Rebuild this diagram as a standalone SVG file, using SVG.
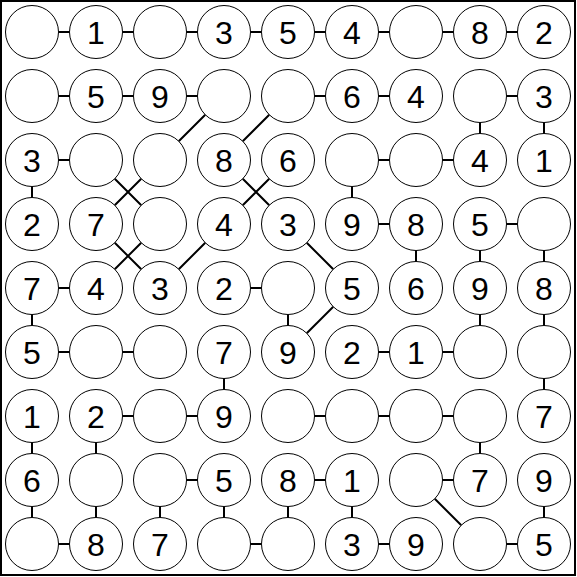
<svg xmlns="http://www.w3.org/2000/svg" width="577" height="577" viewBox="0 0 577 577">
<style>
.n circle{fill:#fff;stroke:#000;stroke-width:1}
.n text{font-family:"Liberation Sans",Arial,sans-serif;font-size:32px;fill:#000;text-anchor:middle}
#connectors path{stroke:#000;stroke-width:2;fill:none}
</style>
<rect x="1" y="1" width="574" height="574" fill="#fff" stroke="#000" stroke-width="2"/>
<g id="connectors">
<path d="M58.5 32h11M122.5 32h11M186.5 32h11M250.5 32h11M314.5 32h11M378.5 32h11M442.5 32h11M506.5 32h11"/>
<path d="M58.5 96h11M122.5 96h11M186.5 96h11M314.5 96h11M378.5 96h11M506.5 96h11"/>
<path d="M58.5 160h11M378.5 160h11M442.5 160h11"/>
<path d="M378.5 224h11M506.5 224h11"/>
<path d="M58.5 288h11M250.5 288h11"/>
<path d="M58.5 352h11M122.5 352h11M378.5 352h11M442.5 352h11"/>
<path d="M122.5 416h11M186.5 416h11M314.5 416h11M378.5 416h11M442.5 416h11"/>
<path d="M186.5 480h11M314.5 480h11M442.5 480h11"/>
<path d="M58.5 544h11M250.5 544h11M378.5 544h11M506.5 544h11"/>
<path d="M480 122.5v11M544 122.5v11"/>
<path d="M32 186.5v11M352 186.5v11"/>
<path d="M416 250.5v11M480 250.5v11M544 250.5v11"/>
<path d="M32 314.5v11M288 314.5v11M480 314.5v11M544 314.5v11"/>
<path d="M224 378.5v11M544 378.5v11"/>
<path d="M32 442.5v11M96 442.5v11M480 442.5v11"/>
<path d="M32 506.5v11M96 506.5v11M160 506.5v11M224 506.5v11M288 506.5v11M352 506.5v11M544 506.5v11"/>
<path d="M178.74 141.26L205.26 114.74M242.74 141.26L269.26 114.74"/>
<path d="M114.74 178.74L141.26 205.26M141.26 178.74L114.74 205.26M242.74 178.74L269.26 205.26M269.26 178.74L242.74 205.26"/>
<path d="M114.74 242.74L141.26 269.26M141.26 242.74L114.74 269.26M178.74 269.26L205.26 242.74M306.74 242.74L333.26 269.26"/>
<path d="M333.26 306.74L306.74 333.26"/>
<path d="M434.74 498.74L461.26 525.26"/>
</g>
<g id="n-0-0" class="n"><circle cx="32" cy="32" r="26.5"/></g>
<g id="n-0-1" class="n"><circle cx="96" cy="32" r="26.5"/><text x="96" y="43.5">1</text></g>
<g id="n-0-2" class="n"><circle cx="160" cy="32" r="26.5"/></g>
<g id="n-0-3" class="n"><circle cx="224" cy="32" r="26.5"/><text x="224" y="43.5">3</text></g>
<g id="n-0-4" class="n"><circle cx="288" cy="32" r="26.5"/><text x="288" y="43.5">5</text></g>
<g id="n-0-5" class="n"><circle cx="352" cy="32" r="26.5"/><text x="352" y="43.5">4</text></g>
<g id="n-0-6" class="n"><circle cx="416" cy="32" r="26.5"/></g>
<g id="n-0-7" class="n"><circle cx="480" cy="32" r="26.5"/><text x="480" y="43.5">8</text></g>
<g id="n-0-8" class="n"><circle cx="544" cy="32" r="26.5"/><text x="544" y="43.5">2</text></g>
<g id="n-1-0" class="n"><circle cx="32" cy="96" r="26.5"/></g>
<g id="n-1-1" class="n"><circle cx="96" cy="96" r="26.5"/><text x="96" y="107.5">5</text></g>
<g id="n-1-2" class="n"><circle cx="160" cy="96" r="26.5"/><text x="160" y="107.5">9</text></g>
<g id="n-1-3" class="n"><circle cx="224" cy="96" r="26.5"/></g>
<g id="n-1-4" class="n"><circle cx="288" cy="96" r="26.5"/></g>
<g id="n-1-5" class="n"><circle cx="352" cy="96" r="26.5"/><text x="352" y="107.5">6</text></g>
<g id="n-1-6" class="n"><circle cx="416" cy="96" r="26.5"/><text x="416" y="107.5">4</text></g>
<g id="n-1-7" class="n"><circle cx="480" cy="96" r="26.5"/></g>
<g id="n-1-8" class="n"><circle cx="544" cy="96" r="26.5"/><text x="544" y="107.5">3</text></g>
<g id="n-2-0" class="n"><circle cx="32" cy="160" r="26.5"/><text x="32" y="171.5">3</text></g>
<g id="n-2-1" class="n"><circle cx="96" cy="160" r="26.5"/></g>
<g id="n-2-2" class="n"><circle cx="160" cy="160" r="26.5"/></g>
<g id="n-2-3" class="n"><circle cx="224" cy="160" r="26.5"/><text x="224" y="171.5">8</text></g>
<g id="n-2-4" class="n"><circle cx="288" cy="160" r="26.5"/><text x="288" y="171.5">6</text></g>
<g id="n-2-5" class="n"><circle cx="352" cy="160" r="26.5"/></g>
<g id="n-2-6" class="n"><circle cx="416" cy="160" r="26.5"/></g>
<g id="n-2-7" class="n"><circle cx="480" cy="160" r="26.5"/><text x="480" y="171.5">4</text></g>
<g id="n-2-8" class="n"><circle cx="544" cy="160" r="26.5"/><text x="544" y="171.5">1</text></g>
<g id="n-3-0" class="n"><circle cx="32" cy="224" r="26.5"/><text x="32" y="235.5">2</text></g>
<g id="n-3-1" class="n"><circle cx="96" cy="224" r="26.5"/><text x="96" y="235.5">7</text></g>
<g id="n-3-2" class="n"><circle cx="160" cy="224" r="26.5"/></g>
<g id="n-3-3" class="n"><circle cx="224" cy="224" r="26.5"/><text x="224" y="235.5">4</text></g>
<g id="n-3-4" class="n"><circle cx="288" cy="224" r="26.5"/><text x="288" y="235.5">3</text></g>
<g id="n-3-5" class="n"><circle cx="352" cy="224" r="26.5"/><text x="352" y="235.5">9</text></g>
<g id="n-3-6" class="n"><circle cx="416" cy="224" r="26.5"/><text x="416" y="235.5">8</text></g>
<g id="n-3-7" class="n"><circle cx="480" cy="224" r="26.5"/><text x="480" y="235.5">5</text></g>
<g id="n-3-8" class="n"><circle cx="544" cy="224" r="26.5"/></g>
<g id="n-4-0" class="n"><circle cx="32" cy="288" r="26.5"/><text x="32" y="299.5">7</text></g>
<g id="n-4-1" class="n"><circle cx="96" cy="288" r="26.5"/><text x="96" y="299.5">4</text></g>
<g id="n-4-2" class="n"><circle cx="160" cy="288" r="26.5"/><text x="160" y="299.5">3</text></g>
<g id="n-4-3" class="n"><circle cx="224" cy="288" r="26.5"/><text x="224" y="299.5">2</text></g>
<g id="n-4-4" class="n"><circle cx="288" cy="288" r="26.5"/></g>
<g id="n-4-5" class="n"><circle cx="352" cy="288" r="26.5"/><text x="352" y="299.5">5</text></g>
<g id="n-4-6" class="n"><circle cx="416" cy="288" r="26.5"/><text x="416" y="299.5">6</text></g>
<g id="n-4-7" class="n"><circle cx="480" cy="288" r="26.5"/><text x="480" y="299.5">9</text></g>
<g id="n-4-8" class="n"><circle cx="544" cy="288" r="26.5"/><text x="544" y="299.5">8</text></g>
<g id="n-5-0" class="n"><circle cx="32" cy="352" r="26.5"/><text x="32" y="363.5">5</text></g>
<g id="n-5-1" class="n"><circle cx="96" cy="352" r="26.5"/></g>
<g id="n-5-2" class="n"><circle cx="160" cy="352" r="26.5"/></g>
<g id="n-5-3" class="n"><circle cx="224" cy="352" r="26.5"/><text x="224" y="363.5">7</text></g>
<g id="n-5-4" class="n"><circle cx="288" cy="352" r="26.5"/><text x="288" y="363.5">9</text></g>
<g id="n-5-5" class="n"><circle cx="352" cy="352" r="26.5"/><text x="352" y="363.5">2</text></g>
<g id="n-5-6" class="n"><circle cx="416" cy="352" r="26.5"/><text x="416" y="363.5">1</text></g>
<g id="n-5-7" class="n"><circle cx="480" cy="352" r="26.5"/></g>
<g id="n-5-8" class="n"><circle cx="544" cy="352" r="26.5"/></g>
<g id="n-6-0" class="n"><circle cx="32" cy="416" r="26.5"/><text x="32" y="427.5">1</text></g>
<g id="n-6-1" class="n"><circle cx="96" cy="416" r="26.5"/><text x="96" y="427.5">2</text></g>
<g id="n-6-2" class="n"><circle cx="160" cy="416" r="26.5"/></g>
<g id="n-6-3" class="n"><circle cx="224" cy="416" r="26.5"/><text x="224" y="427.5">9</text></g>
<g id="n-6-4" class="n"><circle cx="288" cy="416" r="26.5"/></g>
<g id="n-6-5" class="n"><circle cx="352" cy="416" r="26.5"/></g>
<g id="n-6-6" class="n"><circle cx="416" cy="416" r="26.5"/></g>
<g id="n-6-7" class="n"><circle cx="480" cy="416" r="26.5"/></g>
<g id="n-6-8" class="n"><circle cx="544" cy="416" r="26.5"/><text x="544" y="427.5">7</text></g>
<g id="n-7-0" class="n"><circle cx="32" cy="480" r="26.5"/><text x="32" y="491.5">6</text></g>
<g id="n-7-1" class="n"><circle cx="96" cy="480" r="26.5"/></g>
<g id="n-7-2" class="n"><circle cx="160" cy="480" r="26.5"/></g>
<g id="n-7-3" class="n"><circle cx="224" cy="480" r="26.5"/><text x="224" y="491.5">5</text></g>
<g id="n-7-4" class="n"><circle cx="288" cy="480" r="26.5"/><text x="288" y="491.5">8</text></g>
<g id="n-7-5" class="n"><circle cx="352" cy="480" r="26.5"/><text x="352" y="491.5">1</text></g>
<g id="n-7-6" class="n"><circle cx="416" cy="480" r="26.5"/></g>
<g id="n-7-7" class="n"><circle cx="480" cy="480" r="26.5"/><text x="480" y="491.5">7</text></g>
<g id="n-7-8" class="n"><circle cx="544" cy="480" r="26.5"/><text x="544" y="491.5">9</text></g>
<g id="n-8-0" class="n"><circle cx="32" cy="544" r="26.5"/></g>
<g id="n-8-1" class="n"><circle cx="96" cy="544" r="26.5"/><text x="96" y="555.5">8</text></g>
<g id="n-8-2" class="n"><circle cx="160" cy="544" r="26.5"/><text x="160" y="555.5">7</text></g>
<g id="n-8-3" class="n"><circle cx="224" cy="544" r="26.5"/></g>
<g id="n-8-4" class="n"><circle cx="288" cy="544" r="26.5"/></g>
<g id="n-8-5" class="n"><circle cx="352" cy="544" r="26.5"/><text x="352" y="555.5">3</text></g>
<g id="n-8-6" class="n"><circle cx="416" cy="544" r="26.5"/><text x="416" y="555.5">9</text></g>
<g id="n-8-7" class="n"><circle cx="480" cy="544" r="26.5"/></g>
<g id="n-8-8" class="n"><circle cx="544" cy="544" r="26.5"/><text x="544" y="555.5">5</text></g>
</svg>
